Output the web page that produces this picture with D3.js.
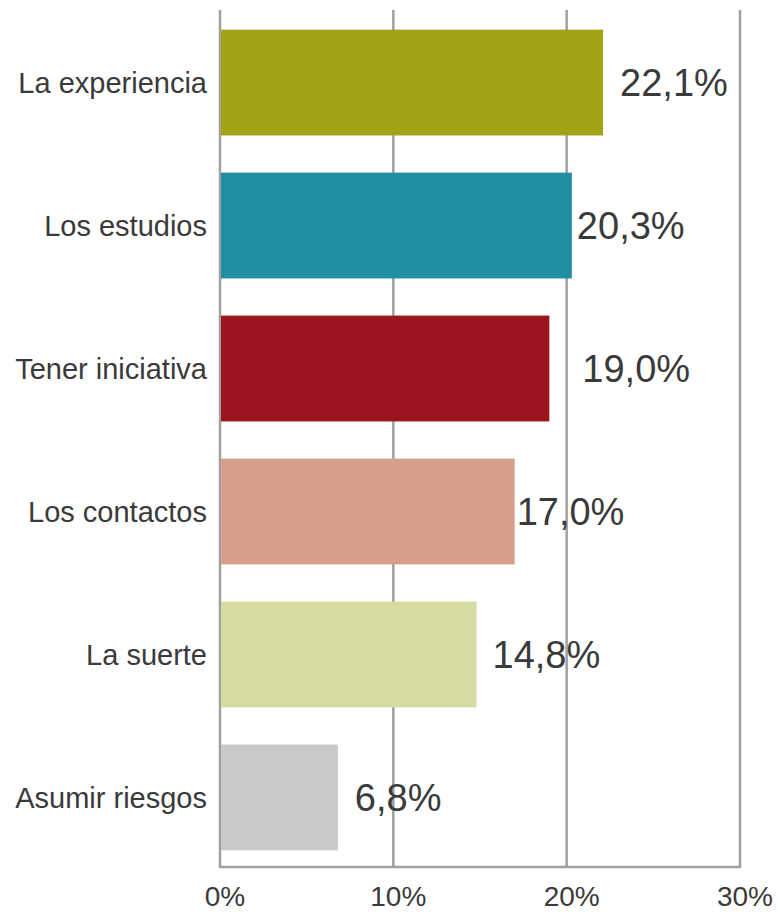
<!DOCTYPE html>
<html>
<head>
<meta charset="utf-8">
<script src="https://cdn.jsdelivr.net/npm/d3@7"></script>
<style>
  body { margin: 0; background: #fff; }
  svg { display: block; font-family: "Liberation Sans", Arial, sans-serif; }
</style>
</head>
<body>
<svg id="chart" width="780" height="912"></svg>
<script>
const categories = ["La experiencia", "Los estudios", "Tener iniciativa", "Los contactos", "La suerte", "Asumir riesgos"];
const values = [22.1, 20.3, 19.0, 17.0, 14.8, 6.8];
const tickValues = [0, 10, 20, 30];
const colors = ["#a1a314", "#208fa1", "#9c141d", "#d69f8b", "#d6dca1", "#c9c9c7"];

// value labels are not placed at one fixed gap in the original
const labelDx = [17, 5, 33, 2, 16, 17];

const svg = d3.select("#chart");
const plotLeft = 220, plotRight = 740, plotTop = 10, plotBottom = 868;

const x = d3.scaleLinear().domain([0, 30]).range([plotLeft, plotRight]);
const y = d3.scaleBand()
  .domain(categories)
  .range([plotTop + 1.5, plotBottom + 0.5])
  .paddingInner(0.26)
  .paddingOuter(0.127);

// gridlines
svg.append("g")
  .selectAll("line")
  .data(tickValues)
  .enter()
  .append("line")
  .attr("x1", d => x(d))
  .attr("x2", d => x(d))
  .attr("y1", plotTop)
  .attr("y2", plotBottom)
  .attr("stroke", "#a0a0a0")
  .attr("stroke-width", 2.5);

// bottom axis line
svg.append("line")
  .attr("x1", x(0) - 1)
  .attr("x2", x(30) + 1)
  .attr("y1", plotBottom - 1)
  .attr("y2", plotBottom - 1)
  .attr("stroke", "#a0a0a0")
  .attr("stroke-width", 2.5);

// bars
svg.append("g")
  .selectAll("rect")
  .data(values)
  .enter()
  .append("rect")
  .attr("x", x(0) + 1)
  .attr("y", (d, i) => y(categories[i]))
  .attr("width", d => x(d) - x(0) - 1)
  .attr("height", y.bandwidth())
  .attr("fill", (d, i) => colors[i]);

// value labels
svg.append("g")
  .selectAll("text")
  .data(values)
  .enter()
  .append("text")
  .attr("x", (d, i) => x(d) + labelDx[i])
  .attr("y", (d, i) => y(categories[i]) + y.bandwidth() / 2)
  .attr("dy", "0.36em")
  .attr("font-size", 38)
  .attr("fill", "#3a3a3a")
  .text(d => d3.format(".1f")(d).replace(".", ",") + "%");

// category labels
svg.append("g")
  .selectAll("text")
  .data(categories)
  .enter()
  .append("text")
  .attr("x", 207)
  .attr("y", d => y(d) + y.bandwidth() / 2)
  .attr("dy", "0.36em")
  .attr("text-anchor", "end")
  .attr("font-size", 29)
  .attr("fill", "#3a3a3a")
  .text(d => d);

// tick labels
svg.append("g")
  .selectAll("text")
  .data(tickValues)
  .enter()
  .append("text")
  .attr("x", d => x(d) + 5)
  .attr("y", 906)
  .attr("text-anchor", "middle")
  .attr("font-size", 28)
  .attr("fill", "#3a3a3a")
  .text(d => d + "%");
</script>
</body>
</html>
